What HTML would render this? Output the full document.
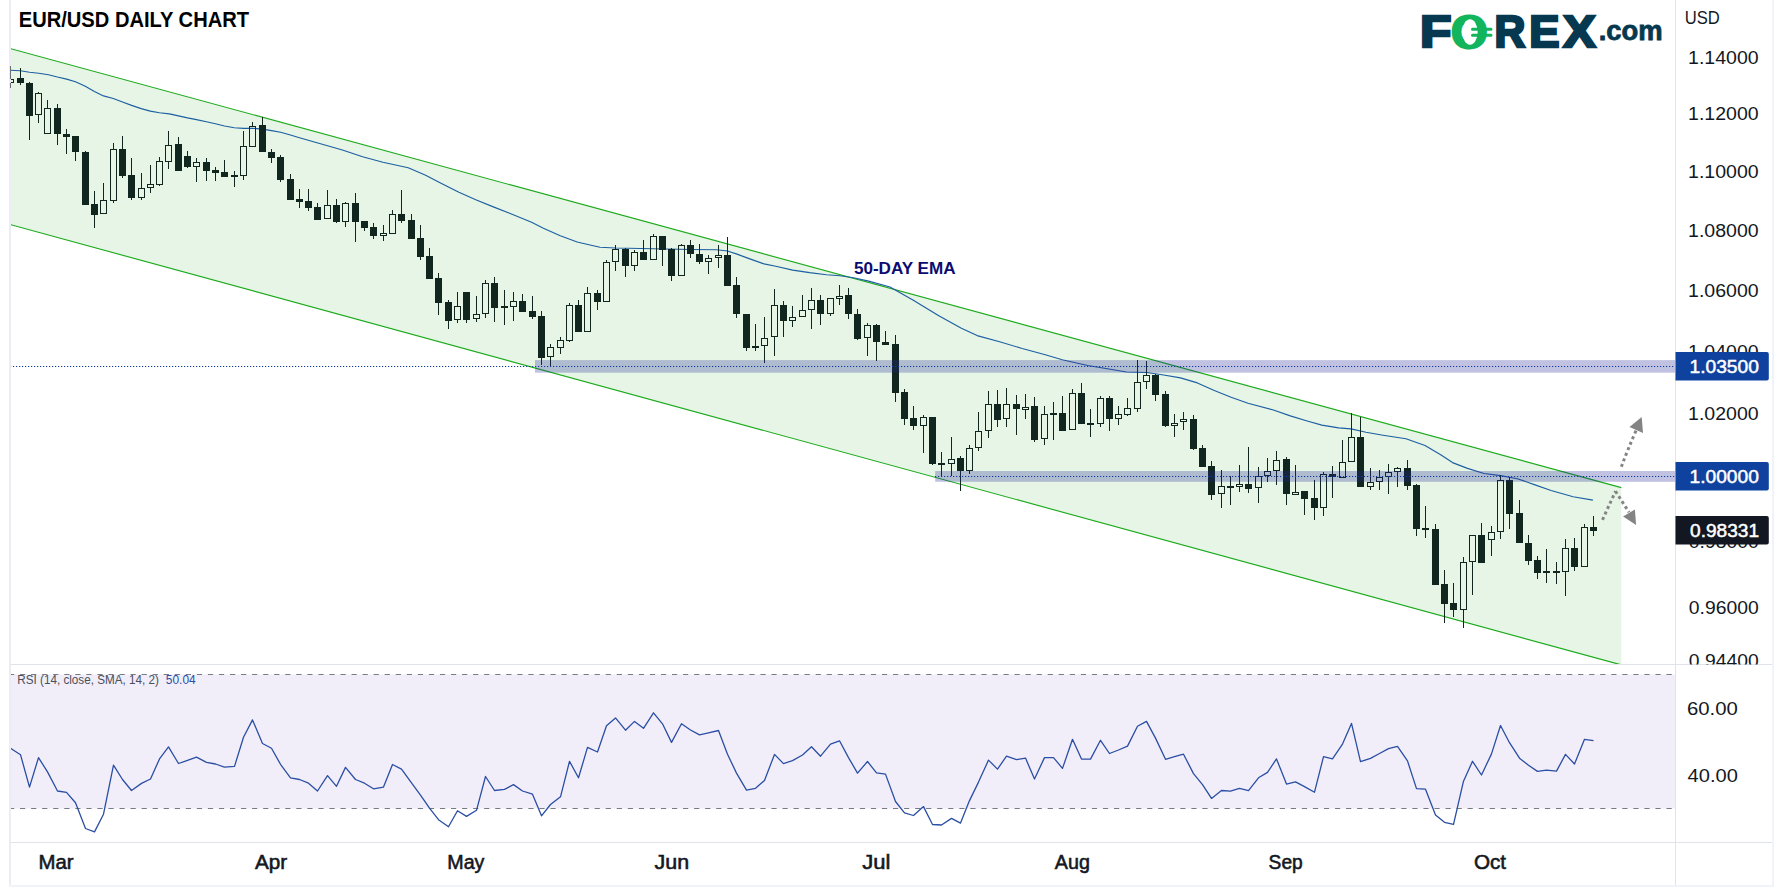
<!DOCTYPE html><html><head><meta charset="utf-8"><title>EUR/USD Daily Chart</title><style>html,body{margin:0;padding:0;background:#fff}svg{display:block}</style></head><body><svg width="1783" height="888" viewBox="0 0 1783 888" font-family='"Liberation Sans", sans-serif'>
<rect width="1783" height="888" fill="#fff"/>
<defs><clipPath id="main"><rect x="9" y="0" width="1666.5" height="664.5"/></clipPath><clipPath id="rsi"><rect x="10" y="665" width="1665.5" height="177.5"/></clipPath><clipPath id="axm"><rect x="1676" y="0" width="96" height="664.5"/></clipPath></defs>
<g clip-path="url(#main)">
<polygon points="9,48.2 1621.3,487.6 1621.3,664.9 9,224.2" fill="#e6f5e5"/>
<line x1="9" y1="48.2" x2="1621.3" y2="487.6" stroke="#1dab1d" stroke-width="1.15"/>
<line x1="9" y1="224.2" x2="1621.3" y2="664.9" stroke="#1dab1d" stroke-width="1.15"/>
<polyline points="10.5,70.3 20.4,70.8 29.6,72.3 38.7,73.3 48.5,74.7 57.4,77.0 66.6,79.1 75.5,81.8 85.3,86.3 94.4,91.4 103.5,95.9 113.3,98.5 122.5,102.0 131.6,105.4 141.2,108.6 150.3,111.1 159.5,112.8 169.4,113.9 178.5,115.9 187.5,117.9 196.5,119.6 206.4,121.8 215.4,123.8 224.5,126.0 234.3,127.7 243.4,128.4 252.5,128.2 262.5,129.1 271.5,130.6 280.6,132.3 290.4,135.0 299.5,137.8 342.4,150.0 362.6,156.8 382.9,162.2 408.2,167.7 425.1,175.0 442.0,183.8 458.9,192.2 475.8,199.8 492.7,206.6 509.6,213.3 531.6,222.3 543.4,228.2 560.3,235.8 577.2,242.0 590.0,245.0 600.0,247.3 615.3,248.0 640.7,248.5 666.0,249.0 691.4,249.5 716.7,249.8 727.5,251.0 737.0,254.1 750.5,259.1 764.0,263.9 775.8,266.2 792.7,270.1 809.6,272.6 826.5,274.7 840.0,275.7 853.5,277.7 868.7,281.1 890.0,287.0 912.9,300.0 938.8,315.8 961.4,328.2 977.1,335.6 999.6,341.7 1022.2,348.5 1045.3,354.7 1062.2,359.8 1087.6,365.5 1104.5,368.2 1126.4,372.0 1146.7,372.5 1163.6,375.0 1180.5,377.9 1197.4,382.9 1214.3,390.5 1231.1,397.3 1248.0,403.2 1273.4,410.0 1290.3,415.9 1307.2,421.0 1321.8,425.1 1338.6,427.9 1351.0,428.9 1366.0,432.2 1383.0,435.2 1406.0,438.8 1425.0,445.5 1440.7,454.8 1452.5,462.6 1467.5,468.4 1484.0,473.5 1500.5,475.6 1517.4,478.7 1534.3,484.6 1551.1,490.5 1573.1,496.8 1592.9,500.1" fill="none" stroke="#1d5fa2" stroke-width="1.15" stroke-linejoin="round"/>
<g shape-rendering="crispEdges" fill="#11261f" stroke="none">
<rect x="10" y="66" width="1" height="13"/>
<rect x="10" y="83" width="1" height="5"/>
<rect x="7" y="79" width="7" height="1"/>
<rect x="7" y="82" width="7" height="1"/>
<rect x="7" y="79" width="1" height="4"/>
<rect x="13" y="79" width="1" height="4"/>
<rect x="20" y="68" width="1" height="17"/>
<rect x="17" y="78" width="7" height="5"/>
<rect x="29" y="82" width="1" height="58"/>
<rect x="26" y="83" width="7" height="33"/>
<rect x="38" y="92" width="1" height="1"/>
<rect x="38" y="115" width="1" height="8"/>
<rect x="35" y="93" width="7" height="1"/>
<rect x="35" y="114" width="7" height="1"/>
<rect x="35" y="93" width="1" height="22"/>
<rect x="41" y="93" width="1" height="22"/>
<rect x="47" y="100" width="1" height="8"/>
<rect x="44" y="108" width="7" height="1"/>
<rect x="44" y="133" width="7" height="1"/>
<rect x="44" y="108" width="1" height="26"/>
<rect x="50" y="108" width="1" height="26"/>
<rect x="57" y="104" width="1" height="41"/>
<rect x="54" y="108" width="7" height="26"/>
<rect x="66" y="129" width="1" height="25"/>
<rect x="63" y="134" width="7" height="3"/>
<rect x="75" y="136" width="1" height="25"/>
<rect x="72" y="136" width="7" height="16"/>
<rect x="85" y="151" width="1" height="54"/>
<rect x="82" y="152" width="7" height="53"/>
<rect x="94" y="191" width="1" height="37"/>
<rect x="91" y="204" width="7" height="11"/>
<rect x="103" y="183" width="1" height="17"/>
<rect x="100" y="200" width="7" height="1"/>
<rect x="100" y="213" width="7" height="1"/>
<rect x="100" y="200" width="1" height="14"/>
<rect x="106" y="200" width="1" height="14"/>
<rect x="113" y="143" width="1" height="6"/>
<rect x="113" y="201" width="1" height="2"/>
<rect x="110" y="149" width="7" height="1"/>
<rect x="110" y="200" width="7" height="1"/>
<rect x="110" y="149" width="1" height="52"/>
<rect x="116" y="149" width="1" height="52"/>
<rect x="122" y="136" width="1" height="42"/>
<rect x="119" y="149" width="7" height="27"/>
<rect x="131" y="158" width="1" height="42"/>
<rect x="128" y="175" width="7" height="23"/>
<rect x="141" y="173" width="1" height="15"/>
<rect x="141" y="198" width="1" height="2"/>
<rect x="138" y="188" width="7" height="1"/>
<rect x="138" y="197" width="7" height="1"/>
<rect x="138" y="188" width="1" height="10"/>
<rect x="144" y="188" width="1" height="10"/>
<rect x="150" y="165" width="1" height="19"/>
<rect x="150" y="188" width="1" height="5"/>
<rect x="147" y="184" width="7" height="1"/>
<rect x="147" y="187" width="7" height="1"/>
<rect x="147" y="184" width="1" height="4"/>
<rect x="153" y="184" width="1" height="4"/>
<rect x="159" y="157" width="1" height="4"/>
<rect x="159" y="185" width="1" height="1"/>
<rect x="156" y="161" width="7" height="1"/>
<rect x="156" y="184" width="7" height="1"/>
<rect x="156" y="161" width="1" height="24"/>
<rect x="162" y="161" width="1" height="24"/>
<rect x="168" y="131" width="1" height="14"/>
<rect x="168" y="162" width="1" height="7"/>
<rect x="165" y="145" width="7" height="1"/>
<rect x="165" y="161" width="7" height="1"/>
<rect x="165" y="145" width="1" height="17"/>
<rect x="171" y="145" width="1" height="17"/>
<rect x="178" y="137" width="1" height="34"/>
<rect x="175" y="144" width="7" height="27"/>
<rect x="187" y="151" width="1" height="17"/>
<rect x="184" y="156" width="7" height="11"/>
<rect x="196" y="158" width="1" height="4"/>
<rect x="196" y="167" width="1" height="15"/>
<rect x="193" y="162" width="7" height="1"/>
<rect x="193" y="166" width="7" height="1"/>
<rect x="193" y="162" width="1" height="5"/>
<rect x="199" y="162" width="1" height="5"/>
<rect x="206" y="158" width="1" height="23"/>
<rect x="203" y="162" width="7" height="9"/>
<rect x="215" y="167" width="1" height="14"/>
<rect x="212" y="170" width="7" height="3"/>
<rect x="224" y="160" width="1" height="17"/>
<rect x="221" y="172" width="7" height="5"/>
<rect x="234" y="171" width="1" height="16"/>
<rect x="231" y="175" width="7" height="2"/>
<rect x="243" y="131" width="1" height="15"/>
<rect x="243" y="176" width="1" height="4"/>
<rect x="240" y="146" width="7" height="1"/>
<rect x="240" y="175" width="7" height="1"/>
<rect x="240" y="146" width="1" height="30"/>
<rect x="246" y="146" width="1" height="30"/>
<rect x="252" y="122" width="1" height="4"/>
<rect x="249" y="126" width="7" height="1"/>
<rect x="249" y="146" width="7" height="1"/>
<rect x="249" y="126" width="1" height="21"/>
<rect x="255" y="126" width="1" height="21"/>
<rect x="262" y="117" width="1" height="35"/>
<rect x="259" y="125" width="7" height="27"/>
<rect x="271" y="149" width="1" height="14"/>
<rect x="268" y="152" width="7" height="6"/>
<rect x="280" y="155" width="1" height="27"/>
<rect x="277" y="157" width="7" height="23"/>
<rect x="290" y="174" width="1" height="26"/>
<rect x="287" y="179" width="7" height="21"/>
<rect x="299" y="189" width="1" height="19"/>
<rect x="296" y="199" width="7" height="3"/>
<rect x="308" y="189" width="1" height="22"/>
<rect x="305" y="201" width="7" height="7"/>
<rect x="317" y="203" width="1" height="17"/>
<rect x="314" y="207" width="7" height="13"/>
<rect x="327" y="190" width="1" height="15"/>
<rect x="324" y="205" width="7" height="1"/>
<rect x="324" y="218" width="7" height="1"/>
<rect x="324" y="205" width="1" height="14"/>
<rect x="330" y="205" width="1" height="14"/>
<rect x="336" y="199" width="1" height="24"/>
<rect x="333" y="205" width="7" height="17"/>
<rect x="345" y="202" width="1" height="1"/>
<rect x="345" y="222" width="1" height="5"/>
<rect x="342" y="203" width="7" height="1"/>
<rect x="342" y="221" width="7" height="1"/>
<rect x="342" y="203" width="1" height="19"/>
<rect x="348" y="203" width="1" height="19"/>
<rect x="355" y="193" width="1" height="49"/>
<rect x="352" y="203" width="7" height="19"/>
<rect x="364" y="221" width="1" height="10"/>
<rect x="361" y="221" width="7" height="7"/>
<rect x="373" y="223" width="1" height="16"/>
<rect x="370" y="227" width="7" height="9"/>
<rect x="383" y="225" width="1" height="8"/>
<rect x="383" y="236" width="1" height="5"/>
<rect x="380" y="233" width="7" height="1"/>
<rect x="380" y="235" width="7" height="1"/>
<rect x="380" y="233" width="1" height="3"/>
<rect x="386" y="233" width="1" height="3"/>
<rect x="392" y="210" width="1" height="4"/>
<rect x="389" y="214" width="7" height="1"/>
<rect x="389" y="233" width="7" height="1"/>
<rect x="389" y="214" width="1" height="20"/>
<rect x="395" y="214" width="1" height="20"/>
<rect x="401" y="190" width="1" height="33"/>
<rect x="398" y="214" width="7" height="7"/>
<rect x="411" y="214" width="1" height="25"/>
<rect x="408" y="220" width="7" height="19"/>
<rect x="420" y="225" width="1" height="35"/>
<rect x="417" y="238" width="7" height="19"/>
<rect x="429" y="248" width="1" height="31"/>
<rect x="426" y="256" width="7" height="23"/>
<rect x="438" y="273" width="1" height="42"/>
<rect x="435" y="278" width="7" height="25"/>
<rect x="448" y="300" width="1" height="29"/>
<rect x="445" y="302" width="7" height="19"/>
<rect x="457" y="292" width="1" height="14"/>
<rect x="457" y="320" width="1" height="3"/>
<rect x="454" y="306" width="7" height="1"/>
<rect x="454" y="319" width="7" height="1"/>
<rect x="454" y="306" width="1" height="14"/>
<rect x="460" y="306" width="1" height="14"/>
<rect x="466" y="292" width="1" height="31"/>
<rect x="463" y="292" width="7" height="28"/>
<rect x="476" y="296" width="1" height="18"/>
<rect x="476" y="319" width="1" height="3"/>
<rect x="473" y="314" width="7" height="1"/>
<rect x="473" y="318" width="7" height="1"/>
<rect x="473" y="314" width="1" height="5"/>
<rect x="479" y="314" width="1" height="5"/>
<rect x="485" y="280" width="1" height="3"/>
<rect x="485" y="314" width="1" height="4"/>
<rect x="482" y="283" width="7" height="1"/>
<rect x="482" y="313" width="7" height="1"/>
<rect x="482" y="283" width="1" height="31"/>
<rect x="488" y="283" width="1" height="31"/>
<rect x="494" y="277" width="1" height="45"/>
<rect x="491" y="283" width="7" height="25"/>
<rect x="504" y="290" width="1" height="35"/>
<rect x="501" y="306" width="7" height="2"/>
<rect x="513" y="292" width="1" height="9"/>
<rect x="513" y="307" width="1" height="14"/>
<rect x="510" y="301" width="7" height="1"/>
<rect x="510" y="306" width="7" height="1"/>
<rect x="510" y="301" width="1" height="6"/>
<rect x="516" y="301" width="1" height="6"/>
<rect x="522" y="294" width="1" height="18"/>
<rect x="519" y="301" width="7" height="11"/>
<rect x="532" y="296" width="1" height="23"/>
<rect x="529" y="311" width="7" height="6"/>
<rect x="541" y="311" width="1" height="54"/>
<rect x="538" y="316" width="7" height="42"/>
<rect x="550" y="344" width="1" height="3"/>
<rect x="550" y="357" width="1" height="10"/>
<rect x="547" y="347" width="7" height="1"/>
<rect x="547" y="356" width="7" height="1"/>
<rect x="547" y="347" width="1" height="10"/>
<rect x="553" y="347" width="1" height="10"/>
<rect x="560" y="337" width="1" height="3"/>
<rect x="560" y="348" width="1" height="6"/>
<rect x="557" y="340" width="7" height="1"/>
<rect x="557" y="347" width="7" height="1"/>
<rect x="557" y="340" width="1" height="8"/>
<rect x="563" y="340" width="1" height="8"/>
<rect x="569" y="303" width="1" height="2"/>
<rect x="569" y="341" width="1" height="1"/>
<rect x="566" y="305" width="7" height="1"/>
<rect x="566" y="340" width="7" height="1"/>
<rect x="566" y="305" width="1" height="36"/>
<rect x="572" y="305" width="1" height="36"/>
<rect x="578" y="300" width="1" height="32"/>
<rect x="575" y="305" width="7" height="27"/>
<rect x="587" y="287" width="1" height="6"/>
<rect x="584" y="293" width="7" height="1"/>
<rect x="584" y="331" width="7" height="1"/>
<rect x="584" y="293" width="1" height="39"/>
<rect x="590" y="293" width="1" height="39"/>
<rect x="597" y="290" width="1" height="20"/>
<rect x="594" y="293" width="7" height="9"/>
<rect x="606" y="260" width="1" height="2"/>
<rect x="603" y="262" width="7" height="1"/>
<rect x="603" y="301" width="7" height="1"/>
<rect x="603" y="262" width="1" height="40"/>
<rect x="609" y="262" width="1" height="40"/>
<rect x="615" y="245" width="1" height="4"/>
<rect x="615" y="262" width="1" height="9"/>
<rect x="612" y="249" width="7" height="1"/>
<rect x="612" y="261" width="7" height="1"/>
<rect x="612" y="249" width="1" height="13"/>
<rect x="618" y="249" width="1" height="13"/>
<rect x="625" y="248" width="1" height="29"/>
<rect x="622" y="249" width="7" height="17"/>
<rect x="634" y="250" width="1" height="2"/>
<rect x="634" y="266" width="1" height="5"/>
<rect x="631" y="252" width="7" height="1"/>
<rect x="631" y="265" width="7" height="1"/>
<rect x="631" y="252" width="1" height="14"/>
<rect x="637" y="252" width="1" height="14"/>
<rect x="643" y="240" width="1" height="20"/>
<rect x="640" y="252" width="7" height="8"/>
<rect x="653" y="234" width="1" height="2"/>
<rect x="650" y="236" width="7" height="1"/>
<rect x="650" y="259" width="7" height="1"/>
<rect x="650" y="236" width="1" height="24"/>
<rect x="656" y="236" width="1" height="24"/>
<rect x="662" y="236" width="1" height="30"/>
<rect x="659" y="236" width="7" height="14"/>
<rect x="671" y="248" width="1" height="33"/>
<rect x="668" y="249" width="7" height="27"/>
<rect x="681" y="244" width="1" height="1"/>
<rect x="678" y="245" width="7" height="1"/>
<rect x="678" y="275" width="7" height="1"/>
<rect x="678" y="245" width="1" height="31"/>
<rect x="684" y="245" width="1" height="31"/>
<rect x="690" y="240" width="1" height="18"/>
<rect x="687" y="245" width="7" height="9"/>
<rect x="699" y="244" width="1" height="20"/>
<rect x="696" y="254" width="7" height="8"/>
<rect x="708" y="255" width="1" height="3"/>
<rect x="708" y="262" width="1" height="12"/>
<rect x="705" y="258" width="7" height="1"/>
<rect x="705" y="261" width="7" height="1"/>
<rect x="705" y="258" width="1" height="4"/>
<rect x="711" y="258" width="1" height="4"/>
<rect x="718" y="245" width="1" height="10"/>
<rect x="718" y="258" width="1" height="10"/>
<rect x="715" y="255" width="7" height="1"/>
<rect x="715" y="257" width="7" height="1"/>
<rect x="715" y="255" width="1" height="3"/>
<rect x="721" y="255" width="1" height="3"/>
<rect x="727" y="237" width="1" height="49"/>
<rect x="724" y="255" width="7" height="31"/>
<rect x="736" y="277" width="1" height="41"/>
<rect x="733" y="285" width="7" height="29"/>
<rect x="746" y="314" width="1" height="37"/>
<rect x="743" y="314" width="7" height="34"/>
<rect x="755" y="324" width="1" height="27"/>
<rect x="752" y="346" width="7" height="2"/>
<rect x="764" y="317" width="1" height="21"/>
<rect x="764" y="346" width="1" height="17"/>
<rect x="761" y="338" width="7" height="1"/>
<rect x="761" y="345" width="7" height="1"/>
<rect x="761" y="338" width="1" height="8"/>
<rect x="767" y="338" width="1" height="8"/>
<rect x="774" y="289" width="1" height="16"/>
<rect x="774" y="337" width="1" height="19"/>
<rect x="771" y="305" width="7" height="1"/>
<rect x="771" y="336" width="7" height="1"/>
<rect x="771" y="305" width="1" height="32"/>
<rect x="777" y="305" width="1" height="32"/>
<rect x="783" y="301" width="1" height="36"/>
<rect x="780" y="305" width="7" height="16"/>
<rect x="792" y="306" width="1" height="11"/>
<rect x="792" y="321" width="1" height="6"/>
<rect x="789" y="317" width="7" height="1"/>
<rect x="789" y="320" width="7" height="1"/>
<rect x="789" y="317" width="1" height="4"/>
<rect x="795" y="317" width="1" height="4"/>
<rect x="802" y="295" width="1" height="15"/>
<rect x="799" y="310" width="7" height="1"/>
<rect x="799" y="316" width="7" height="1"/>
<rect x="799" y="310" width="1" height="7"/>
<rect x="805" y="310" width="1" height="7"/>
<rect x="811" y="288" width="1" height="12"/>
<rect x="811" y="310" width="1" height="19"/>
<rect x="808" y="300" width="7" height="1"/>
<rect x="808" y="309" width="7" height="1"/>
<rect x="808" y="300" width="1" height="10"/>
<rect x="814" y="300" width="1" height="10"/>
<rect x="820" y="295" width="1" height="30"/>
<rect x="817" y="300" width="7" height="14"/>
<rect x="830" y="314" width="1" height="2"/>
<rect x="827" y="298" width="7" height="1"/>
<rect x="827" y="313" width="7" height="1"/>
<rect x="827" y="298" width="1" height="16"/>
<rect x="833" y="298" width="1" height="16"/>
<rect x="839" y="285" width="1" height="11"/>
<rect x="839" y="299" width="1" height="6"/>
<rect x="836" y="296" width="7" height="1"/>
<rect x="836" y="298" width="7" height="1"/>
<rect x="836" y="296" width="1" height="3"/>
<rect x="842" y="296" width="1" height="3"/>
<rect x="848" y="288" width="1" height="31"/>
<rect x="845" y="295" width="7" height="19"/>
<rect x="857" y="309" width="1" height="31"/>
<rect x="854" y="314" width="7" height="25"/>
<rect x="867" y="323" width="1" height="2"/>
<rect x="867" y="338" width="1" height="18"/>
<rect x="864" y="325" width="7" height="1"/>
<rect x="864" y="337" width="7" height="1"/>
<rect x="864" y="325" width="1" height="13"/>
<rect x="870" y="325" width="1" height="13"/>
<rect x="876" y="324" width="1" height="37"/>
<rect x="873" y="325" width="7" height="17"/>
<rect x="885" y="331" width="1" height="14"/>
<rect x="882" y="342" width="7" height="3"/>
<rect x="895" y="335" width="1" height="67"/>
<rect x="892" y="344" width="7" height="49"/>
<rect x="904" y="389" width="1" height="36"/>
<rect x="901" y="392" width="7" height="27"/>
<rect x="913" y="406" width="1" height="24"/>
<rect x="910" y="418" width="7" height="8"/>
<rect x="923" y="415" width="1" height="2"/>
<rect x="923" y="426" width="1" height="27"/>
<rect x="920" y="417" width="7" height="1"/>
<rect x="920" y="425" width="7" height="1"/>
<rect x="920" y="417" width="1" height="9"/>
<rect x="926" y="417" width="1" height="9"/>
<rect x="932" y="417" width="1" height="48"/>
<rect x="929" y="417" width="7" height="47"/>
<rect x="941" y="452" width="1" height="24"/>
<rect x="938" y="463" width="7" height="2"/>
<rect x="951" y="437" width="1" height="22"/>
<rect x="951" y="464" width="1" height="12"/>
<rect x="948" y="459" width="7" height="1"/>
<rect x="948" y="463" width="7" height="1"/>
<rect x="948" y="459" width="1" height="5"/>
<rect x="954" y="459" width="1" height="5"/>
<rect x="960" y="456" width="1" height="35"/>
<rect x="957" y="458" width="7" height="13"/>
<rect x="969" y="445" width="1" height="3"/>
<rect x="969" y="471" width="1" height="3"/>
<rect x="966" y="448" width="7" height="1"/>
<rect x="966" y="470" width="7" height="1"/>
<rect x="966" y="448" width="1" height="23"/>
<rect x="972" y="448" width="1" height="23"/>
<rect x="978" y="412" width="1" height="19"/>
<rect x="978" y="448" width="1" height="3"/>
<rect x="975" y="431" width="7" height="1"/>
<rect x="975" y="447" width="7" height="1"/>
<rect x="975" y="431" width="1" height="17"/>
<rect x="981" y="431" width="1" height="17"/>
<rect x="988" y="391" width="1" height="13"/>
<rect x="988" y="431" width="1" height="7"/>
<rect x="985" y="404" width="7" height="1"/>
<rect x="985" y="430" width="7" height="1"/>
<rect x="985" y="404" width="1" height="27"/>
<rect x="991" y="404" width="1" height="27"/>
<rect x="997" y="390" width="1" height="37"/>
<rect x="994" y="404" width="7" height="16"/>
<rect x="1006" y="388" width="1" height="16"/>
<rect x="1006" y="419" width="1" height="8"/>
<rect x="1003" y="404" width="7" height="1"/>
<rect x="1003" y="418" width="7" height="1"/>
<rect x="1003" y="404" width="1" height="15"/>
<rect x="1009" y="404" width="1" height="15"/>
<rect x="1016" y="395" width="1" height="40"/>
<rect x="1013" y="404" width="7" height="5"/>
<rect x="1025" y="394" width="1" height="13"/>
<rect x="1025" y="410" width="1" height="9"/>
<rect x="1022" y="407" width="7" height="1"/>
<rect x="1022" y="409" width="7" height="1"/>
<rect x="1022" y="407" width="1" height="3"/>
<rect x="1028" y="407" width="1" height="3"/>
<rect x="1034" y="397" width="1" height="45"/>
<rect x="1031" y="406" width="7" height="34"/>
<rect x="1044" y="406" width="1" height="8"/>
<rect x="1044" y="439" width="1" height="6"/>
<rect x="1041" y="414" width="7" height="1"/>
<rect x="1041" y="438" width="7" height="1"/>
<rect x="1041" y="414" width="1" height="25"/>
<rect x="1047" y="414" width="1" height="25"/>
<rect x="1053" y="402" width="1" height="38"/>
<rect x="1050" y="413" width="7" height="2"/>
<rect x="1062" y="396" width="1" height="35"/>
<rect x="1059" y="413" width="7" height="18"/>
<rect x="1072" y="389" width="1" height="4"/>
<rect x="1069" y="393" width="7" height="1"/>
<rect x="1069" y="429" width="7" height="1"/>
<rect x="1069" y="393" width="1" height="37"/>
<rect x="1075" y="393" width="1" height="37"/>
<rect x="1081" y="383" width="1" height="41"/>
<rect x="1078" y="393" width="7" height="31"/>
<rect x="1090" y="409" width="1" height="28"/>
<rect x="1087" y="423" width="7" height="2"/>
<rect x="1100" y="396" width="1" height="2"/>
<rect x="1100" y="424" width="1" height="3"/>
<rect x="1097" y="398" width="7" height="1"/>
<rect x="1097" y="423" width="7" height="1"/>
<rect x="1097" y="398" width="1" height="26"/>
<rect x="1103" y="398" width="1" height="26"/>
<rect x="1109" y="396" width="1" height="35"/>
<rect x="1106" y="398" width="7" height="21"/>
<rect x="1118" y="406" width="1" height="8"/>
<rect x="1118" y="419" width="1" height="6"/>
<rect x="1115" y="414" width="7" height="1"/>
<rect x="1115" y="418" width="7" height="1"/>
<rect x="1115" y="414" width="1" height="5"/>
<rect x="1121" y="414" width="1" height="5"/>
<rect x="1127" y="398" width="1" height="10"/>
<rect x="1127" y="415" width="1" height="1"/>
<rect x="1124" y="408" width="7" height="1"/>
<rect x="1124" y="414" width="7" height="1"/>
<rect x="1124" y="408" width="1" height="7"/>
<rect x="1130" y="408" width="1" height="7"/>
<rect x="1137" y="360" width="1" height="22"/>
<rect x="1137" y="409" width="1" height="3"/>
<rect x="1134" y="382" width="7" height="1"/>
<rect x="1134" y="408" width="7" height="1"/>
<rect x="1134" y="382" width="1" height="27"/>
<rect x="1140" y="382" width="1" height="27"/>
<rect x="1146" y="361" width="1" height="14"/>
<rect x="1146" y="382" width="1" height="7"/>
<rect x="1143" y="375" width="7" height="1"/>
<rect x="1143" y="381" width="7" height="1"/>
<rect x="1143" y="375" width="1" height="7"/>
<rect x="1149" y="375" width="1" height="7"/>
<rect x="1155" y="374" width="1" height="27"/>
<rect x="1152" y="375" width="7" height="20"/>
<rect x="1165" y="391" width="1" height="36"/>
<rect x="1162" y="394" width="7" height="32"/>
<rect x="1174" y="414" width="1" height="9"/>
<rect x="1174" y="426" width="1" height="11"/>
<rect x="1171" y="423" width="7" height="1"/>
<rect x="1171" y="425" width="7" height="1"/>
<rect x="1171" y="423" width="1" height="3"/>
<rect x="1177" y="423" width="1" height="3"/>
<rect x="1183" y="412" width="1" height="7"/>
<rect x="1183" y="422" width="1" height="8"/>
<rect x="1180" y="419" width="7" height="1"/>
<rect x="1180" y="421" width="7" height="1"/>
<rect x="1180" y="419" width="1" height="3"/>
<rect x="1186" y="419" width="1" height="3"/>
<rect x="1193" y="415" width="1" height="35"/>
<rect x="1190" y="419" width="7" height="30"/>
<rect x="1202" y="445" width="1" height="22"/>
<rect x="1199" y="448" width="7" height="19"/>
<rect x="1211" y="461" width="1" height="39"/>
<rect x="1208" y="466" width="7" height="29"/>
<rect x="1221" y="470" width="1" height="16"/>
<rect x="1221" y="494" width="1" height="14"/>
<rect x="1218" y="486" width="7" height="1"/>
<rect x="1218" y="493" width="7" height="1"/>
<rect x="1218" y="486" width="1" height="8"/>
<rect x="1224" y="486" width="1" height="8"/>
<rect x="1230" y="476" width="1" height="29"/>
<rect x="1227" y="486" width="7" height="2"/>
<rect x="1239" y="465" width="1" height="19"/>
<rect x="1239" y="487" width="1" height="5"/>
<rect x="1236" y="484" width="7" height="1"/>
<rect x="1236" y="486" width="7" height="1"/>
<rect x="1236" y="484" width="1" height="3"/>
<rect x="1242" y="484" width="1" height="3"/>
<rect x="1248" y="447" width="1" height="46"/>
<rect x="1245" y="484" width="7" height="5"/>
<rect x="1258" y="467" width="1" height="9"/>
<rect x="1258" y="488" width="1" height="15"/>
<rect x="1255" y="476" width="7" height="1"/>
<rect x="1255" y="487" width="7" height="1"/>
<rect x="1255" y="476" width="1" height="12"/>
<rect x="1261" y="476" width="1" height="12"/>
<rect x="1267" y="458" width="1" height="13"/>
<rect x="1267" y="476" width="1" height="6"/>
<rect x="1264" y="471" width="7" height="1"/>
<rect x="1264" y="475" width="7" height="1"/>
<rect x="1264" y="471" width="1" height="5"/>
<rect x="1270" y="471" width="1" height="5"/>
<rect x="1276" y="451" width="1" height="9"/>
<rect x="1276" y="471" width="1" height="14"/>
<rect x="1273" y="460" width="7" height="1"/>
<rect x="1273" y="470" width="7" height="1"/>
<rect x="1273" y="460" width="1" height="11"/>
<rect x="1279" y="460" width="1" height="11"/>
<rect x="1286" y="457" width="1" height="48"/>
<rect x="1283" y="459" width="7" height="35"/>
<rect x="1295" y="465" width="1" height="27"/>
<rect x="1292" y="492" width="7" height="1"/>
<rect x="1292" y="494" width="7" height="1"/>
<rect x="1292" y="492" width="1" height="3"/>
<rect x="1298" y="492" width="1" height="3"/>
<rect x="1304" y="491" width="1" height="24"/>
<rect x="1301" y="491" width="7" height="8"/>
<rect x="1314" y="480" width="1" height="40"/>
<rect x="1311" y="498" width="7" height="10"/>
<rect x="1323" y="472" width="1" height="2"/>
<rect x="1323" y="508" width="1" height="8"/>
<rect x="1320" y="474" width="7" height="1"/>
<rect x="1320" y="507" width="7" height="1"/>
<rect x="1320" y="474" width="1" height="34"/>
<rect x="1326" y="474" width="1" height="34"/>
<rect x="1332" y="466" width="1" height="32"/>
<rect x="1329" y="474" width="7" height="3"/>
<rect x="1342" y="440" width="1" height="22"/>
<rect x="1339" y="462" width="7" height="1"/>
<rect x="1339" y="477" width="7" height="1"/>
<rect x="1339" y="462" width="1" height="16"/>
<rect x="1345" y="462" width="1" height="16"/>
<rect x="1351" y="413" width="1" height="24"/>
<rect x="1348" y="437" width="7" height="1"/>
<rect x="1348" y="461" width="7" height="1"/>
<rect x="1348" y="437" width="1" height="25"/>
<rect x="1354" y="437" width="1" height="25"/>
<rect x="1360" y="417" width="1" height="70"/>
<rect x="1357" y="437" width="7" height="50"/>
<rect x="1370" y="468" width="1" height="14"/>
<rect x="1370" y="487" width="1" height="3"/>
<rect x="1367" y="482" width="7" height="1"/>
<rect x="1367" y="486" width="7" height="1"/>
<rect x="1367" y="482" width="1" height="5"/>
<rect x="1373" y="482" width="1" height="5"/>
<rect x="1379" y="470" width="1" height="7"/>
<rect x="1379" y="482" width="1" height="8"/>
<rect x="1376" y="477" width="7" height="1"/>
<rect x="1376" y="481" width="7" height="1"/>
<rect x="1376" y="477" width="1" height="5"/>
<rect x="1382" y="477" width="1" height="5"/>
<rect x="1388" y="464" width="1" height="8"/>
<rect x="1388" y="477" width="1" height="17"/>
<rect x="1385" y="472" width="7" height="1"/>
<rect x="1385" y="476" width="7" height="1"/>
<rect x="1385" y="472" width="1" height="5"/>
<rect x="1391" y="472" width="1" height="5"/>
<rect x="1397" y="467" width="1" height="1"/>
<rect x="1397" y="472" width="1" height="15"/>
<rect x="1394" y="468" width="7" height="1"/>
<rect x="1394" y="471" width="7" height="1"/>
<rect x="1394" y="468" width="1" height="4"/>
<rect x="1400" y="468" width="1" height="4"/>
<rect x="1407" y="460" width="1" height="30"/>
<rect x="1404" y="468" width="7" height="18"/>
<rect x="1416" y="484" width="1" height="52"/>
<rect x="1413" y="485" width="7" height="44"/>
<rect x="1425" y="506" width="1" height="32"/>
<rect x="1422" y="528" width="7" height="2"/>
<rect x="1435" y="524" width="1" height="61"/>
<rect x="1432" y="529" width="7" height="56"/>
<rect x="1444" y="570" width="1" height="53"/>
<rect x="1441" y="584" width="7" height="20"/>
<rect x="1453" y="583" width="1" height="34"/>
<rect x="1450" y="603" width="7" height="7"/>
<rect x="1463" y="557" width="1" height="5"/>
<rect x="1463" y="610" width="1" height="18"/>
<rect x="1460" y="562" width="7" height="1"/>
<rect x="1460" y="609" width="7" height="1"/>
<rect x="1460" y="562" width="1" height="48"/>
<rect x="1466" y="562" width="1" height="48"/>
<rect x="1472" y="562" width="1" height="33"/>
<rect x="1469" y="535" width="7" height="1"/>
<rect x="1469" y="561" width="7" height="1"/>
<rect x="1469" y="535" width="1" height="27"/>
<rect x="1475" y="535" width="1" height="27"/>
<rect x="1481" y="523" width="1" height="40"/>
<rect x="1478" y="535" width="7" height="28"/>
<rect x="1491" y="526" width="1" height="6"/>
<rect x="1491" y="540" width="1" height="16"/>
<rect x="1488" y="532" width="7" height="1"/>
<rect x="1488" y="539" width="7" height="1"/>
<rect x="1488" y="532" width="1" height="8"/>
<rect x="1494" y="532" width="1" height="8"/>
<rect x="1500" y="475" width="1" height="5"/>
<rect x="1500" y="532" width="1" height="7"/>
<rect x="1497" y="480" width="7" height="1"/>
<rect x="1497" y="531" width="7" height="1"/>
<rect x="1497" y="480" width="1" height="52"/>
<rect x="1503" y="480" width="1" height="52"/>
<rect x="1509" y="477" width="1" height="52"/>
<rect x="1506" y="480" width="7" height="34"/>
<rect x="1519" y="500" width="1" height="43"/>
<rect x="1516" y="513" width="7" height="30"/>
<rect x="1528" y="535" width="1" height="30"/>
<rect x="1525" y="543" width="7" height="18"/>
<rect x="1537" y="556" width="1" height="23"/>
<rect x="1534" y="560" width="7" height="13"/>
<rect x="1546" y="549" width="1" height="34"/>
<rect x="1543" y="571" width="7" height="2"/>
<rect x="1556" y="562" width="1" height="22"/>
<rect x="1553" y="571" width="7" height="2"/>
<rect x="1565" y="539" width="1" height="9"/>
<rect x="1565" y="572" width="1" height="24"/>
<rect x="1562" y="548" width="7" height="1"/>
<rect x="1562" y="571" width="7" height="1"/>
<rect x="1562" y="548" width="1" height="24"/>
<rect x="1568" y="548" width="1" height="24"/>
<rect x="1574" y="538" width="1" height="33"/>
<rect x="1571" y="548" width="7" height="19"/>
<rect x="1584" y="524" width="1" height="3"/>
<rect x="1581" y="527" width="7" height="1"/>
<rect x="1581" y="566" width="7" height="1"/>
<rect x="1581" y="527" width="1" height="40"/>
<rect x="1587" y="527" width="1" height="40"/>
<rect x="1593" y="516" width="1" height="20"/>
<rect x="1590" y="527" width="7" height="4"/>
</g>
<rect x="535" y="360.1" width="1140.5" height="12.6" fill="rgba(34,37,151,0.28)"/>
<rect x="935.2" y="471" width="740.3" height="10.8" fill="rgba(34,37,151,0.28)"/>
<line x1="10" y1="366.5" x2="1675.5" y2="366.5" stroke="#0c3c9c" stroke-width="1.2" stroke-dasharray="1.2 1.8"/>
<line x1="935" y1="476.5" x2="1675.5" y2="476.5" stroke="#0c3c9c" stroke-width="1.2" stroke-dasharray="1.2 1.8"/>
<path d="M1621.4,466.7 Q1627.5,450 1636.5,429.5" fill="none" stroke="#848484" stroke-width="3" stroke-dasharray="3 3"/>
<polygon points="1641.7,416.9 1629.5,427 1643,432.9" fill="#848484"/>
<path d="M1602.5,519.9 L1615.5,491.2" fill="none" stroke="#848484" stroke-width="3" stroke-dasharray="3 3"/>
<path d="M1615.5,491.2 L1629,512.3" fill="none" stroke="#848484" stroke-width="3" stroke-dasharray="3 3"/>
<polygon points="1636.1,525 1623.1,516.6 1634.9,509.5" fill="#848484"/>
<text transform="translate(853.89,273.50) scale(1.0446,1)" font-size="16.4" font-weight="700" fill="#0b0b70" xml:space="preserve">50-DAY EMA</text>
</g>
<g clip-path="url(#rsi)">
<rect x="10" y="674.5" width="1665.5" height="134" fill="#f1eefa"/>
<line x1="9" y1="674.5" x2="1675.5" y2="674.5" stroke="#787b86" stroke-width="1.1" stroke-dasharray="5.2 5.85"/>
<line x1="9" y1="808.5" x2="1675.5" y2="808.5" stroke="#787b86" stroke-width="1.1" stroke-dasharray="5.2 5.85"/>
<polyline points="10.5,748.3 20.5,754.7 29.5,787.1 38.5,757.6 47.5,771.9 57.5,791.0 66.5,792.4 75.5,802.7 85.5,828.5 94.5,831.9 103.5,814.2 113.5,765.2 122.5,779.5 131.5,790.5 141.5,783.4 150.5,779.0 159.5,758.9 168.5,746.9 178.5,763.5 187.5,760.4 196.5,757.2 206.5,762.3 215.5,764.0 224.5,767.2 234.5,766.4 243.5,737.3 252.5,719.9 262.5,743.5 271.5,748.3 280.5,764.3 290.5,777.8 299.5,779.5 308.5,783.2 317.5,791.0 327.5,775.6 336.5,786.3 345.5,767.4 355.5,779.5 364.5,783.2 373.5,788.8 383.5,787.1 392.5,764.5 401.5,769.1 411.5,782.9 420.5,795.1 429.5,808.2 438.5,819.7 448.5,826.8 457.5,810.8 466.5,816.4 476.5,810.3 485.5,776.5 494.5,790.5 504.5,789.3 513.5,784.6 522.5,791.0 532.5,794.2 541.5,815.8 550.5,804.5 560.5,796.8 569.5,761.3 578.5,777.8 587.5,747.4 597.5,752.0 606.5,725.8 615.5,717.9 625.5,730.2 634.5,721.4 643.5,728.3 653.5,712.8 662.5,723.8 671.5,742.4 681.5,723.8 690.5,730.0 699.5,734.9 708.5,732.9 718.5,730.5 727.5,754.2 736.5,773.1 746.5,790.2 755.5,788.3 764.5,780.4 774.5,754.4 783.5,763.6 792.5,760.6 802.5,755.0 811.5,746.8 820.5,756.2 830.5,744.1 839.5,740.8 848.5,757.6 857.5,773.1 867.5,761.5 876.5,772.8 885.5,774.1 895.5,801.5 904.5,812.8 913.5,815.5 923.5,806.6 932.5,824.5 941.5,825.0 951.5,818.4 960.5,823.1 969.5,800.6 978.5,782.1 988.5,760.1 997.5,769.1 1006.5,756.2 1016.5,759.6 1025.5,758.1 1034.5,779.0 1044.5,757.6 1053.5,757.6 1062.5,768.4 1072.5,739.3 1081.5,759.1 1090.5,759.1 1100.5,740.3 1109.5,753.5 1118.5,750.0 1127.5,746.1 1137.5,726.3 1146.5,721.4 1155.5,738.1 1165.5,759.3 1174.5,756.7 1183.5,754.2 1193.5,773.6 1202.5,784.6 1211.5,798.4 1221.5,790.5 1230.5,791.2 1239.5,788.3 1248.5,790.7 1258.5,777.8 1267.5,772.4 1276.5,758.9 1286.5,784.1 1295.5,781.9 1304.5,786.6 1314.5,792.2 1323.5,756.7 1332.5,758.9 1342.5,744.1 1351.5,723.4 1360.5,761.6 1370.5,758.4 1379.5,753.5 1388.5,748.6 1397.5,746.3 1407.5,760.9 1416.5,788.6 1425.5,789.2 1435.5,815.0 1444.5,822.3 1453.5,824.3 1463.5,781.2 1472.5,761.3 1481.5,775.0 1491.5,753.9 1500.5,725.5 1509.5,742.7 1519.5,758.2 1528.5,765.2 1537.5,771.4 1546.5,770.2 1556.5,771.1 1565.5,754.4 1574.5,764.0 1584.5,739.3 1593.5,740.7" fill="none" stroke="#2a4ea3" stroke-width="1.3" stroke-linejoin="round"/>
<text transform="translate(17.26,684.00) scale(0.8861,1)" font-size="13.2" font-weight="400" fill="#4c4f5a" xml:space="preserve">RSI (14, close, SMA, 14, 2)</text>
<text transform="translate(165.82,684.00) scale(0.9041,1)" font-size="13.2" font-weight="400" fill="#2a4ea3" xml:space="preserve">50.04</text>
</g>
<rect x="9" y="0" width="2" height="887" fill="#ececf4"/>
<rect x="10" y="66" width="1" height="13" fill="#6c6f78"/><rect x="10" y="83" width="1" height="5" fill="#6c6f78"/>
<rect x="1772" y="0" width="2" height="887" fill="#f0f3fa"/>
<rect x="9" y="885" width="1765" height="2" fill="#f0f3fa"/>
<rect x="1675" y="0" width="1" height="885" fill="#e0e3eb"/>
<rect x="11" y="664" width="1761" height="1" fill="#e0e3eb"/>
<rect x="11" y="842" width="1761" height="1" fill="#e0e3eb"/>
<g clip-path="url(#axm)">
<text transform="translate(1688.04,63.80) scale(1.0178,1)" font-size="19.2" font-weight="400" fill="#131722" xml:space="preserve">1.14000</text>
<text transform="translate(1688.04,120.10) scale(1.0178,1)" font-size="19.2" font-weight="400" fill="#131722" xml:space="preserve">1.12000</text>
<text transform="translate(1688.04,178.30) scale(1.0178,1)" font-size="19.2" font-weight="400" fill="#131722" xml:space="preserve">1.10000</text>
<text transform="translate(1688.04,237.10) scale(1.0178,1)" font-size="19.2" font-weight="400" fill="#131722" xml:space="preserve">1.08000</text>
<text transform="translate(1688.04,296.90) scale(1.0178,1)" font-size="19.2" font-weight="400" fill="#131722" xml:space="preserve">1.06000</text>
<text transform="translate(1688.04,357.60) scale(1.0178,1)" font-size="19.2" font-weight="400" fill="#131722" xml:space="preserve">1.04000</text>
<text transform="translate(1688.04,419.70) scale(1.0178,1)" font-size="19.2" font-weight="400" fill="#131722" xml:space="preserve">1.02000</text>
<text transform="translate(1688.83,547.60) scale(1.0063,1)" font-size="19.2" font-weight="400" fill="#131722" xml:space="preserve">0.98000</text>
<text transform="translate(1688.83,613.50) scale(1.0063,1)" font-size="19.2" font-weight="400" fill="#131722" xml:space="preserve">0.96000</text>
<text transform="translate(1688.83,667.20) scale(1.0063,1)" font-size="19.2" font-weight="400" fill="#131722" xml:space="preserve">0.94400</text>
</g>
<text transform="translate(1684.77,23.60) scale(0.8933,1)" font-size="18.6" font-weight="400" fill="#131722" xml:space="preserve">USD</text>
<path d="M1675.5,352 H1766.8 Q1768.8,352 1768.8,354 V378.5 Q1768.8,380.5 1766.8,380.5 H1675.5 Z" fill="#0f429f"/>
<text transform="translate(1689.45,373.00) scale(1.0109,1)" font-size="19.0" font-weight="400" fill="#fff" stroke="#fff" stroke-width="0.5" stroke-linejoin="miter" xml:space="preserve">1.03500</text>
<path d="M1675.5,462.1 H1766.8 Q1768.8,462.1 1768.8,464.1 V488.6 Q1768.8,490.6 1766.8,490.6 H1675.5 Z" fill="#0f429f"/>
<text transform="translate(1689.45,483.10) scale(1.0109,1)" font-size="19.0" font-weight="400" fill="#fff" stroke="#fff" stroke-width="0.5" stroke-linejoin="miter" xml:space="preserve">1.00000</text>
<path d="M1675.5,516 H1766.8 Q1768.8,516 1768.8,518 V542.5 Q1768.8,544.5 1766.8,544.5 H1675.5 Z" fill="#131722"/>
<text transform="translate(1690.03,537.00) scale(1.0052,1)" font-size="19.0" font-weight="400" fill="#fff" stroke="#fff" stroke-width="0.5" stroke-linejoin="miter" xml:space="preserve">0.98331</text>
<text transform="translate(1686.98,714.50) scale(1.0590,1)" font-size="19.2" font-weight="400" fill="#131722" xml:space="preserve">60.00</text>
<text transform="translate(1687.60,781.70) scale(1.0459,1)" font-size="19.2" font-weight="400" fill="#131722" xml:space="preserve">40.00</text>
<text transform="translate(38.47,869.00) scale(1.0551,1)" font-size="19.3" font-weight="400" fill="#131722" stroke="#131722" stroke-width="0.55" stroke-linejoin="miter" xml:space="preserve">Mar</text>
<text transform="translate(255.01,869.00) scale(1.0728,1)" font-size="19.3" font-weight="400" fill="#131722" stroke="#131722" stroke-width="0.55" stroke-linejoin="miter" xml:space="preserve">Apr</text>
<text transform="translate(447.32,869.00) scale(1.0193,1)" font-size="19.3" font-weight="400" fill="#131722" stroke="#131722" stroke-width="0.55" stroke-linejoin="miter" xml:space="preserve">May</text>
<text transform="translate(654.50,869.00) scale(1.1127,1)" font-size="19.3" font-weight="400" fill="#131722" stroke="#131722" stroke-width="0.55" stroke-linejoin="miter" xml:space="preserve">Jun</text>
<text transform="translate(862.20,869.00) scale(1.1424,1)" font-size="19.3" font-weight="400" fill="#131722" stroke="#131722" stroke-width="0.55" stroke-linejoin="miter" xml:space="preserve">Jul</text>
<text transform="translate(1054.80,869.00) scale(1.0214,1)" font-size="19.3" font-weight="400" fill="#131722" stroke="#131722" stroke-width="0.55" stroke-linejoin="miter" xml:space="preserve">Aug</text>
<text transform="translate(1268.62,869.00) scale(0.9941,1)" font-size="19.3" font-weight="400" fill="#131722" stroke="#131722" stroke-width="0.55" stroke-linejoin="miter" xml:space="preserve">Sep</text>
<text transform="translate(1473.98,869.00) scale(1.0701,1)" font-size="19.3" font-weight="400" fill="#131722" stroke="#131722" stroke-width="0.55" stroke-linejoin="miter" xml:space="preserve">Oct</text>
<text transform="translate(18.79,26.90) scale(0.9360,1)" font-size="21.5" font-weight="700" fill="#000" xml:space="preserve">EUR/USD DAILY CHART</text>
<text transform="translate(1420.04,47.20) scale(1.1480,1)" font-size="44.8" font-weight="700" fill="#06394f" stroke="#06394f" stroke-width="2.6" stroke-linejoin="miter" xml:space="preserve">F</text>
<text transform="translate(1451.34,47.70) scale(0.9939,1)" font-size="46.6" font-weight="700" fill="#12b45c" stroke="#12b45c" stroke-width="3.0" stroke-linejoin="miter" xml:space="preserve">O</text>
<ellipse cx="1470" cy="32" rx="7.6" ry="12.7" fill="#fff"/>
<path d="M1472.5,29.2 H1491 M1472.5,35.3 H1491" stroke="#12b45c" stroke-width="3" stroke-linecap="round" fill="none"/>
<text transform="translate(1494.59,47.20) scale(0.9526,1)" font-size="44.8" font-weight="700" fill="#06394f" stroke="#06394f" stroke-width="2.6" stroke-linejoin="miter" xml:space="preserve">R</text>
<text transform="translate(1529.29,47.20) scale(1.0117,1)" font-size="44.8" font-weight="700" fill="#06394f" stroke="#06394f" stroke-width="2.6" stroke-linejoin="miter" xml:space="preserve">E</text>
<text transform="translate(1563.34,47.20) scale(1.0833,1)" font-size="44.8" font-weight="700" fill="#06394f" stroke="#06394f" stroke-width="2.6" stroke-linejoin="miter" xml:space="preserve">X</text>
<text transform="translate(1598.63,39.70) scale(0.9968,1)" font-size="27.5" font-weight="700" fill="#06394f" stroke="#06394f" stroke-width="0.8" stroke-linejoin="miter" xml:space="preserve">.com</text>
</svg></body></html>
